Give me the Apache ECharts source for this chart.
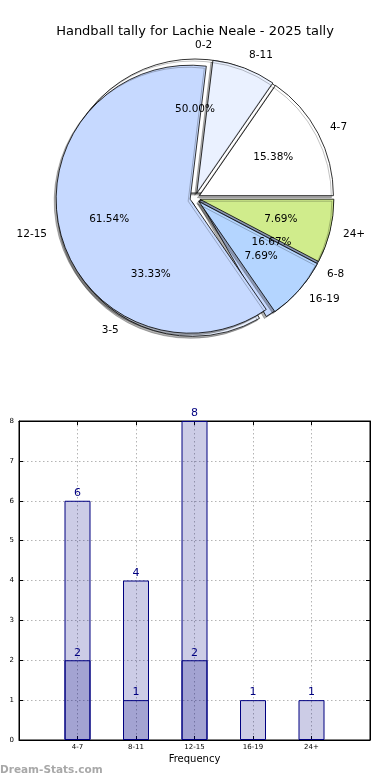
<!DOCTYPE html>
<html><head><meta charset="utf-8">
<script src="https://cdn.jsdelivr.net/npm/echarts@6/dist/echarts.min.js"></script>
<style>html,body{margin:0;padding:0;background:#fff}#c{width:390px;height:780px}</style>
</head><body><div id="c"></div>
<script>
const titleText = 'Handball tally for Lachie Neale - 2025 tally';
// pie drawn behind
const backNames = ['0-2', '3-5', '6-8'];
const backValues = [3, 2, 1];
const backColors = ['#ffffff', '#eaf1ff', '#c6d9ff'];
// pie drawn in front
const frontNames = ['4-7', '8-11', '12-15', '16-19', '24+'];
const frontValues = [2, 1, 8, 1, 1];
const frontColors = ['#ffffff', '#eaf1ff', '#c6d9ff', '#b4d5ff', '#d0ec8c'];
// bar chart
const barCategories = ['4-7', '8-11', '12-15', '16-19', '24+'];
const totalCounts = [6, 4, 8, 1, 1];
const subCounts = [2, 1, 2, 0, 0];
const yTicks = [0, 1, 2, 3, 4, 5, 6, 7, 8];

const FONT = 'DejaVu Sans';
const CX = 195, CY = 198, R = 134, OFF = 5;

function wedgeSeries(names, values, colors, z) {
  return {
    type: 'pie', z: z, center: [CX, CY], radius: [0, R],
    startAngle: 0, clockwise: false, avoidLabelOverlap: false,
    selectedMode: 'multiple', selectedOffset: OFF, silent: true,
    itemStyle: { borderColor: '#000', borderWidth: 0.8, shadowColor: 'rgba(0,0,0,0.3)', shadowBlur: 0.5, shadowOffsetX: -2, shadowOffsetY: 2 },
    label: { show: true, position: 'outside', color: '#000', fontSize: 10.5, fontFamily: FONT, distanceToLabelLine: 0, formatter: '{b}' },
    labelLine: { show: false, length: 0.1 * R, length2: 0 },
    emphasis: { disabled: true },
    data: names.map((n, i) => ({ name: n, value: values[i], selected: true, itemStyle: { color: colors[i] } }))
  };
}
function pctSeries(names, values, z) {
  const total = values.reduce((a, b) => a + b, 0);
  return {
    type: 'pie', z: z, center: [CX, CY], radius: [0, 1.2 * R],
    startAngle: 0, clockwise: false, avoidLabelOverlap: false,
    selectedMode: 'multiple', selectedOffset: OFF, silent: true,
    itemStyle: { color: 'rgba(0,0,0,0)', borderWidth: 0 },
    label: { show: true, position: 'inside', color: '#000', fontSize: 10.5, fontFamily: FONT,
      formatter: p => (p.value / total * 100).toFixed(2) + '%' },
    labelLine: { show: false },
    emphasis: { disabled: true },
    data: names.map((n, i) => ({ name: n, value: values[i], selected: true }))
  };
}

const chart = echarts.init(document.getElementById('c'));
const axisTxt = { fontSize: 7, color: '#000', fontFamily: FONT };
const gridLine = { show: true, lineStyle: { type: [1.5, 2.5], color: '#b4b4b4', width: 1 } };
const tick = { show: true, inside: true, length: 4, lineStyle: { color: '#000' } };
const line = { show: true, onZero: false, lineStyle: { color: '#000' } };
chart.setOption({
  animation: false,
  backgroundColor: '#fff',
  title: { text: titleText, left: 'center', top: 20, textStyle: { fontSize: 13, fontWeight: 'normal', color: '#000', fontFamily: FONT } },
  grid: { left: 19, right: 20, top: 421, bottom: 40, show: true, borderColor: '#000', borderWidth: 1, containLabel: false },
  xAxis: [
    { type: 'value', min: -1, max: 5, interval: 1, position: 'bottom',
      axisLine: line, axisTick: tick,
      axisLabel: Object.assign({ margin: 4, formatter: v => barCategories[v] !== undefined ? barCategories[v] : '' }, axisTxt),
      splitLine: gridLine,
      name: 'Frequency', nameLocation: 'middle', nameGap: 14, nameTextStyle: { fontSize: 10, color: '#000', fontFamily: FONT } },
    { type: 'value', min: -1, max: 5, interval: 1, position: 'top',
      axisLine: line, axisTick: tick, axisLabel: { show: false }, splitLine: { show: false } }
  ],
  yAxis: [
    { type: 'value', min: yTicks[0], max: yTicks[yTicks.length - 1], interval: 1, position: 'left',
      axisLine: line, axisTick: tick,
      axisLabel: Object.assign({ margin: 5 }, axisTxt),
      splitLine: gridLine },
    { type: 'value', min: yTicks[0], max: yTicks[yTicks.length - 1], interval: 1, position: 'right',
      axisLine: line, axisTick: tick, axisLabel: { show: false }, splitLine: { show: false } }
  ],
  graphic: [{ type: 'text', left: 0, top: 765, style: { text: 'Dream-Stats.com', fill: '#a8a8a8', font: 'bold 10.5px "DejaVu Sans"' } }],
  series: [
    wedgeSeries(backNames, backValues, backColors, 1),
    wedgeSeries(frontNames, frontValues, frontColors, 2),
    pctSeries(backNames, backValues, 3),
    pctSeries(frontNames, frontValues, 3),
    { type: 'bar', xAxisIndex: 0, yAxisIndex: 0, barWidth: 26, barGap: '-100%',
      data: totalCounts.map((v, i) => [i, v]),
      itemStyle: { color: 'rgba(0,0,128,0.2)', borderColor: '#000080', borderWidth: 1 },
      label: { show: true, position: 'top', distance: 2, color: '#000080', fontSize: 11, fontFamily: FONT, formatter: p => p.value[1] } },
    { type: 'bar', xAxisIndex: 0, yAxisIndex: 0, barWidth: 26, barGap: '-100%',
      data: subCounts.map((v, i) => [i, v]).filter(d => d[1] > 0),
      itemStyle: { color: 'rgba(0,0,128,0.2)', borderColor: '#000080', borderWidth: 1 },
      label: { show: true, position: 'top', distance: 2, color: '#000080', fontSize: 11, fontFamily: FONT, formatter: p => p.value[1] } }
  ]
});
</script>
</body></html>
